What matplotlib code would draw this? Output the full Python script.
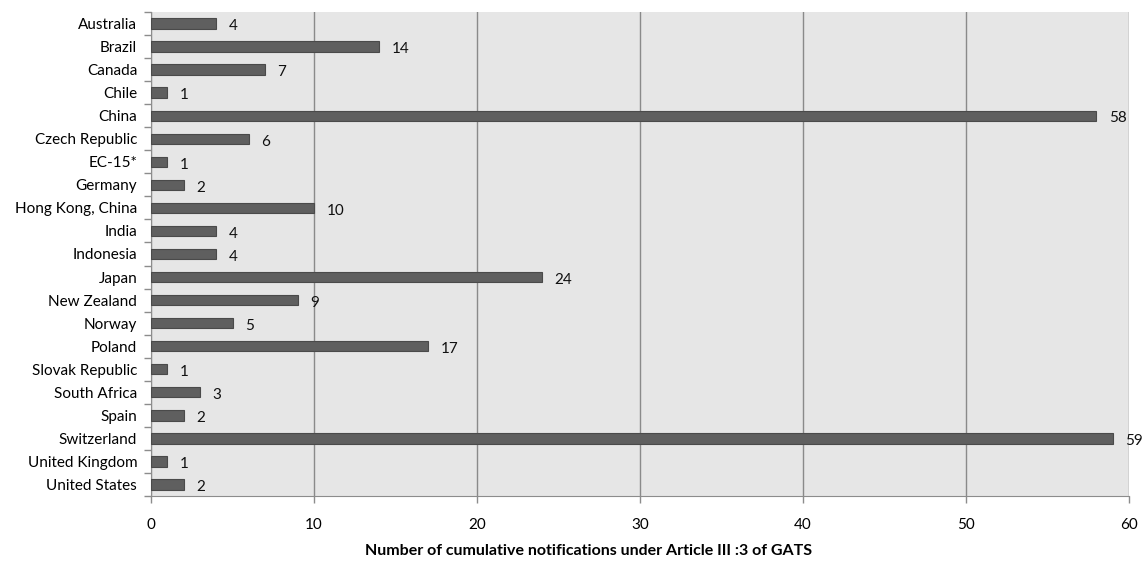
import matplotlib
matplotlib.use("Agg")
import matplotlib.pyplot as plt
import numpy as np

countries = ["Australia", "Brazil", "Canada", "Chile", "China", "Czech Republic",
             "EC-15*", "Germany", "Hong Kong, China", "India", "Indonesia", "Japan",
             "New Zealand", "Norway", "Poland", "Slovak Republic", "South Africa",
             "Spain", "Switzerland", "United Kingdom", "United States"]
notifications = [4, 14, 7, 1, 58, 6, 1, 2, 10, 4, 4, 24, 9, 5, 17, 1, 3, 2, 59, 1, 2]
x_ticks = [0, 10, 20, 30, 40, 50, 60]

plt.rcParams["font.family"] = ["Lato", "DejaVu Sans"]

fig = plt.figure(figsize=(11.46, 5.61), dpi=100)
ax = fig.add_axes([0.1318, 0.1159, 0.8532, 0.8627])
ax.set_facecolor("#e6e6e6")

n = len(countries)
ypos = np.arange(n)
ax.barh(ypos, notifications, height=0.45, color="#5f5f5f", edgecolor="#4a4a4a",
        linewidth=0.8, zorder=3)
for y, v in zip(ypos, notifications):
    ax.annotate(str(v), (v, y), xytext=(9, -2), textcoords="offset points",
                va="center", ha="left", fontsize=11, color="#111111", zorder=4)

ax.set_xlim(0, 60)
ax.set_ylim(n - 0.5, -0.5)
ax.set_xticks(x_ticks)
ax.set_xticklabels([str(t) for t in x_ticks], fontsize=11)
ax.set_yticks(ypos)
ax.set_yticklabels(countries, fontsize=11)
ax.tick_params(axis="y", length=0, pad=10)
ax.set_yticks(np.arange(-0.5, n, 1), minor=True)
ax.tick_params(axis="y", which="minor", length=5, color="#8c8c8c", width=1)
ax.tick_params(axis="x", length=5, color="#8c8c8c", width=1, pad=11)

ax.grid(axis="x", color="#8a8a8a", linewidth=1, zorder=1)
for side in ["top", "right"]:
    ax.spines[side].set_visible(False)
ax.spines["left"].set_color("#8c8c8c")
ax.spines["bottom"].set_color("#8c8c8c")

ax.set_xlabel("Number of cumulative notifications under Article III :3 of GATS",
              fontsize=11.5, fontweight="bold", labelpad=10)
ax.xaxis.set_label_coords(0.447, -0.1)
ax.xaxis.label.set_va("top")

fig.savefig("out.png", dpi=100)
